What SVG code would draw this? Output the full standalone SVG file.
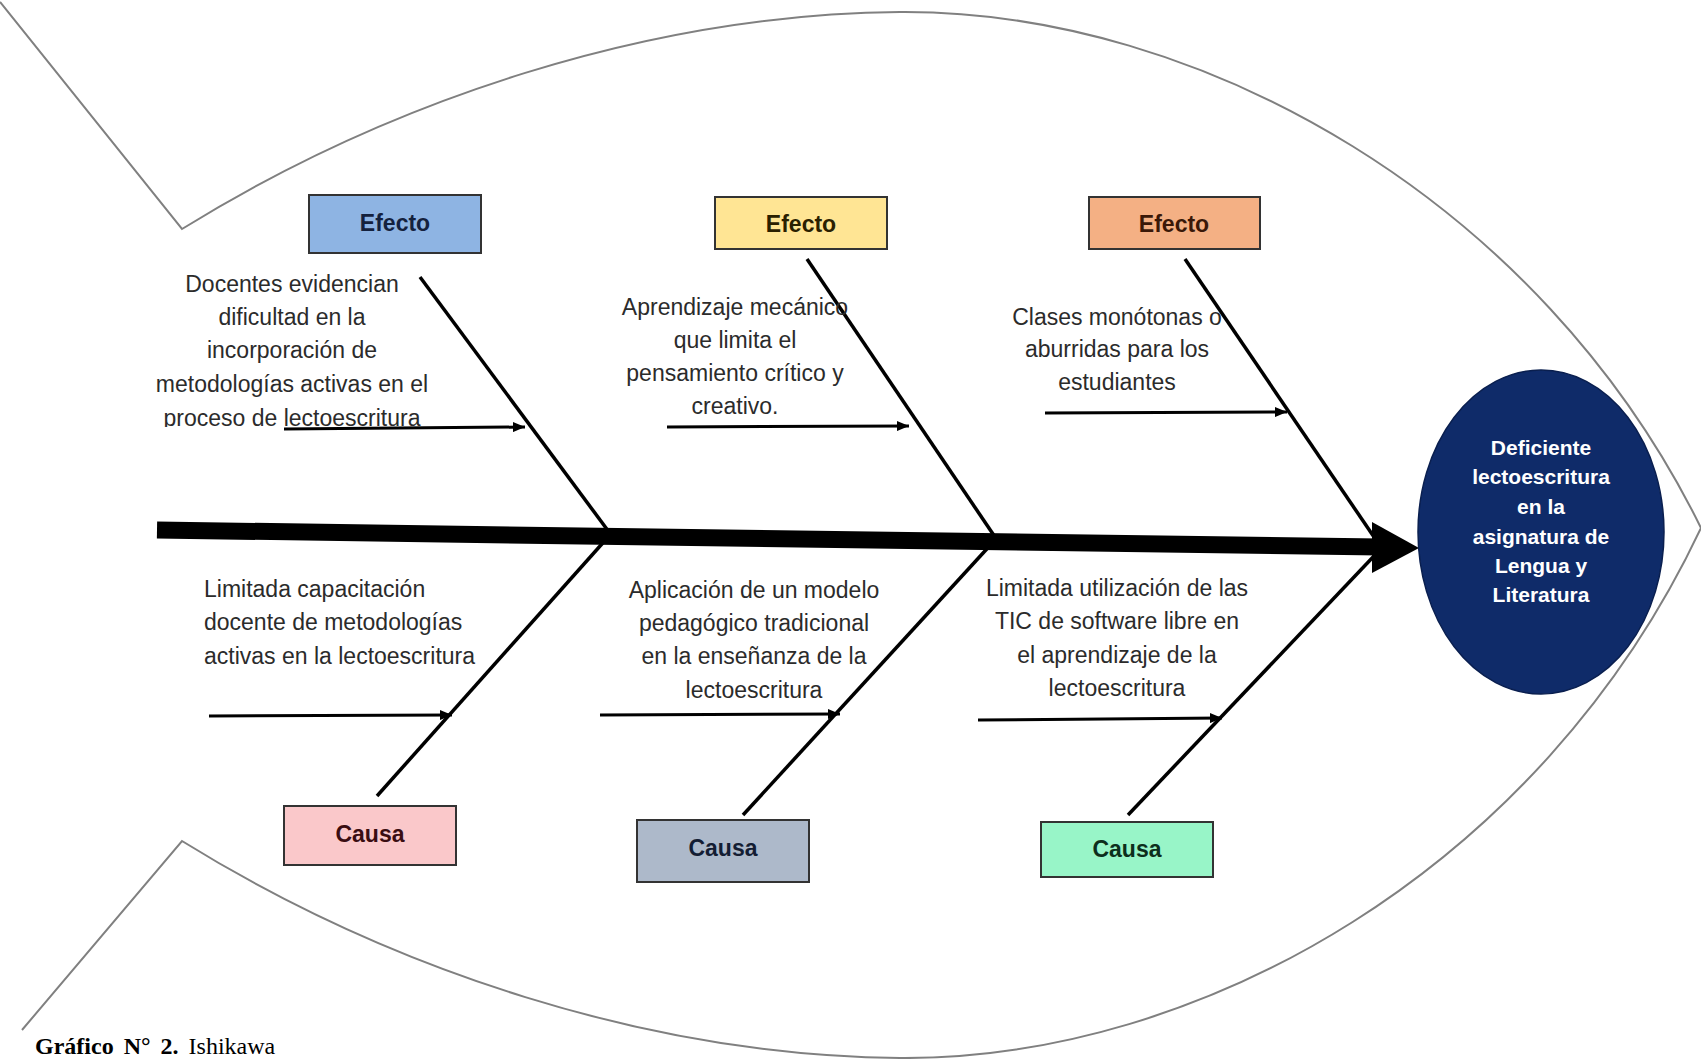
<svg xmlns="http://www.w3.org/2000/svg" width="1701" height="1059" viewBox="0 0 1701 1059">
<style>
  .outline { fill: none; stroke: #808080; stroke-width: 2; }
  .bone { stroke: #000; stroke-width: 3.5; fill: none; }
  .arr { stroke: #000; stroke-width: 3; fill: none; marker-end: url(#ah); }
  .body { font-family: "Liberation Sans", Arial, sans-serif; font-size: 23px; fill: #2b2b2b; }
  .mid { text-anchor: middle; }
  .lbl { font-family: "Liberation Sans", Arial, sans-serif; font-size: 23px; font-weight: bold; text-anchor: middle; }
  .box { stroke: #333; stroke-width: 2; }
  .head { font-family: "Liberation Sans", Arial, sans-serif; font-size: 21px; font-weight: bold; fill: #ffffff; text-anchor: middle; }
  .cap { font-family: "Liberation Serif", "Times New Roman", serif; font-size: 24px; fill: #000; word-spacing: 4px; }
</style>
<defs>
  <marker id="ah" markerUnits="userSpaceOnUse" markerWidth="13" markerHeight="10" refX="12" refY="5" orient="auto">
    <path d="M0,0 L12,5 L0,10 z" fill="#000"/>
  </marker>
  <clipPath id="clipT1"><rect x="100" y="260" width="400" height="167"/></clipPath>
</defs>
<rect x="0" y="0" width="1701" height="1059" fill="#ffffff"/>

<g id="fish-outline">
  <path class="outline" d="M0,2 L182,229 C390,100 650,14 900,12 C1200,10 1540,200 1701,528 C1540,870 1200,1060 900,1058 C650,1056 390,970 182,841 L22,1030"/>
</g>

<g id="connectors">
  <line x1="157" y1="530" x2="1380" y2="547" stroke="#000" stroke-width="17"/>
  <polygon points="1372,522 1419,548 1372,573" fill="#000"/>
  <line class="bone" x1="420" y1="277" x2="609" y2="532"/>
  <line class="bone" x1="609" y1="536" x2="377" y2="796"/>
  <line class="bone" x1="807" y1="259" x2="995" y2="537"/>
  <line class="bone" x1="995" y1="540" x2="743" y2="815"/>
  <line class="bone" x1="1185" y1="259" x2="1374" y2="537"/>
  <line class="bone" x1="1374" y1="556" x2="1128" y2="815"/>
  <line class="arr" x1="284" y1="429" x2="525" y2="427"/>
  <line class="arr" x1="667" y1="427" x2="909" y2="426"/>
  <line class="arr" x1="1045" y1="413" x2="1287" y2="412"/>
  <line class="arr" x1="209" y1="716" x2="452" y2="715"/>
  <line class="arr" x1="600" y1="715" x2="840" y2="714"/>
  <line class="arr" x1="978" y1="720" x2="1222" y2="718"/>
</g>

<g id="efecto1">
  <rect class="box" x="309" y="195" width="172" height="58" fill="#8EB4E3"/>
  <text class="lbl" x="395" y="231" fill="#14213d">Efecto</text>
</g>
<g id="efecto2">
  <rect class="box" x="715" y="197" width="172" height="52" fill="#FFE594"/>
  <text class="lbl" x="801" y="232" fill="#2a2000">Efecto</text>
</g>
<g id="efecto3">
  <rect class="box" x="1089" y="197" width="171" height="52" fill="#F4B084"/>
  <text class="lbl" x="1174" y="232" fill="#3a1808">Efecto</text>
</g>
<g id="causa1">
  <rect class="box" x="284" y="806" width="172" height="59" fill="#FAC8CA"/>
  <text class="lbl" x="370" y="842" fill="#3a0d12">Causa</text>
</g>
<g id="causa2">
  <rect class="box" x="637" y="820" width="172" height="62" fill="#ADB9CA"/>
  <text class="lbl" x="723" y="856" fill="#141d33">Causa</text>
</g>
<g id="causa3">
  <rect class="box" x="1041" y="822" width="172" height="55" fill="#98F5C8"/>
  <text class="lbl" x="1127" y="857" fill="#0d2e1c">Causa</text>
</g>

<g id="text-efecto1" clip-path="url(#clipT1)">
  <text class="body mid" x="292" y="292">Docentes evidencian</text>
  <text class="body mid" x="292" y="325">dificultad en la</text>
  <text class="body mid" x="292" y="358">incorporación de</text>
  <text class="body mid" x="292" y="392">metodologías activas en el</text>
  <text class="body mid" x="292" y="426">proceso de lectoescritura</text>
</g>
<g id="text-efecto2">
  <text class="body mid" x="735" y="315">Aprendizaje mecánico</text>
  <text class="body mid" x="735" y="348">que limita el</text>
  <text class="body mid" x="735" y="381">pensamiento crítico y</text>
  <text class="body mid" x="735" y="414">creativo.</text>
</g>
<g id="text-efecto3">
  <text class="body mid" x="1117" y="325">Clases monótonas o</text>
  <text class="body mid" x="1117" y="357">aburridas para los</text>
  <text class="body mid" x="1117" y="390">estudiantes</text>
</g>
<g id="text-causa1">
  <text class="body" x="204" y="597">Limitada capacitación</text>
  <text class="body" x="204" y="630">docente de metodologías</text>
  <text class="body" x="204" y="664">activas en la lectoescritura</text>
</g>
<g id="text-causa2">
  <text class="body mid" x="754" y="598">Aplicación de un modelo</text>
  <text class="body mid" x="754" y="631">pedagógico tradicional</text>
  <text class="body mid" x="754" y="664">en la enseñanza de la</text>
  <text class="body mid" x="754" y="698">lectoescritura</text>
</g>
<g id="text-causa3">
  <text class="body mid" x="1117" y="596">Limitada utilización de las</text>
  <text class="body mid" x="1117" y="629">TIC de software libre en</text>
  <text class="body mid" x="1117" y="663">el aprendizaje de la</text>
  <text class="body mid" x="1117" y="696">lectoescritura</text>
</g>

<g id="problema">
  <ellipse cx="1541" cy="532" rx="123" ry="162" fill="#0F2B69" stroke="#0a1f4f" stroke-width="1.5"/>
  <text class="head" x="1541" y="455">Deficiente</text>
  <text class="head" x="1541" y="484">lectoescritura</text>
  <text class="head" x="1541" y="514">en la</text>
  <text class="head" x="1541" y="544">asignatura de</text>
  <text class="head" x="1541" y="573">Lengua y</text>
  <text class="head" x="1541" y="602">Literatura</text>
</g>

<g id="caption">
  <text class="cap" x="35" y="1054"><tspan font-weight="bold">Gráfico N° 2.</tspan> Ishikawa</text>
</g>
</svg>
